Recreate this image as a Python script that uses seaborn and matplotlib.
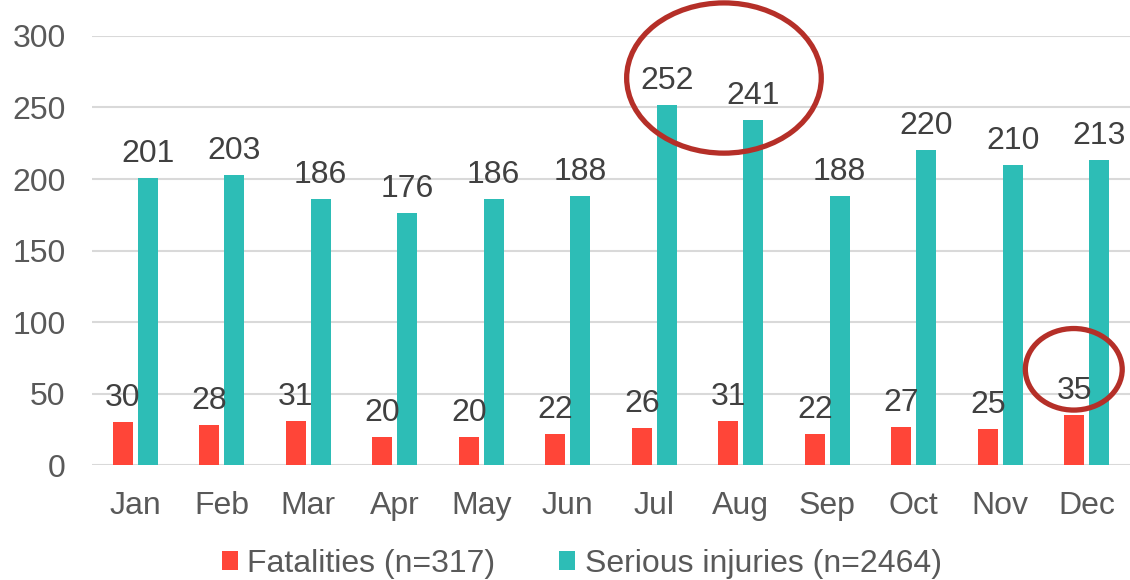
import matplotlib
matplotlib.use("Agg")
import matplotlib.pyplot as plt
from matplotlib.patches import Ellipse
import seaborn as sns
import pandas as pd

# Monthly counts
months = ["Jan", "Feb", "Mar", "Apr", "May", "Jun", "Jul", "Aug", "Sep", "Oct", "Nov", "Dec"]
fatalities = [30, 28, 31, 20, 20, 22, 26, 31, 22, 27, 25, 35]
serious = [201, 203, 186, 176, 186, 188, 252, 241, 188, 220, 210, 213]
series_names = ["Fatalities (n=317)", "Serious injuries (n=2464)"]
colors = ["#FF4538", "#2DBDB6"]

# Long table for seaborn
df = pd.DataFrame({
    "month": months * 2,
    "count": fatalities + serious,
    "series": [series_names[0]] * len(months) + [series_names[1]] * len(months),
})

sns.set_style("white")
plt.rcParams["font.family"] = ["Liberation Sans", "DejaVu Sans"]

fig = plt.figure(figsize=(11.3, 5.8), dpi=100)
ax = fig.add_axes([0.0814, 0.198, 0.9186, 0.740])

sns.barplot(data=df, x="month", y="count", hue="series", order=months,
            palette=colors, width=0.577, gap=0.2, saturation=1,
            edgecolor="none", ax=ax)

# value labels above every bar
for cont in ax.containers:
    ax.bar_label(cont, padding=6.5, fontsize=23, color="#404040")

ax.set_ylim(0, 300)
ax.set_xlim(-0.5, 11.5)
ax.set_yticks(range(0, 301, 50))
ax.yaxis.grid(True, color="#D9D9D9", linewidth=1.5)
ax.set_axisbelow(True)
for s in ax.spines.values():
    s.set_visible(False)
ax.tick_params(axis="both", length=0, labelsize=23, colors="#595959")
ax.tick_params(axis="x", pad=18.5)
ax.tick_params(axis="y", pad=19)
ax.set_xlabel("")
ax.set_ylabel("")

# legend at the bottom
ax.legend(loc="center", bbox_to_anchor=(0.515, 0.028), bbox_transform=fig.transFigure,
          ncol=2, frameon=False, fontsize=23, handlelength=0.5, handleheight=0.5,
          handletextpad=0.3, columnspacing=2.0, labelcolor="#595959")

# red highlight ellipses
ax.add_patch(Ellipse((6.806, 270.6), 2.25, 105, fill=False, edgecolor="#B52F28",
                     linewidth=3.8, clip_on=False, zorder=5))
ax.add_patch(Ellipse((10.85, 67), 1.12, 57, fill=False, edgecolor="#B52F28",
                     linewidth=3.8, clip_on=False, zorder=5))

fig.savefig("out.png", dpi=100)
